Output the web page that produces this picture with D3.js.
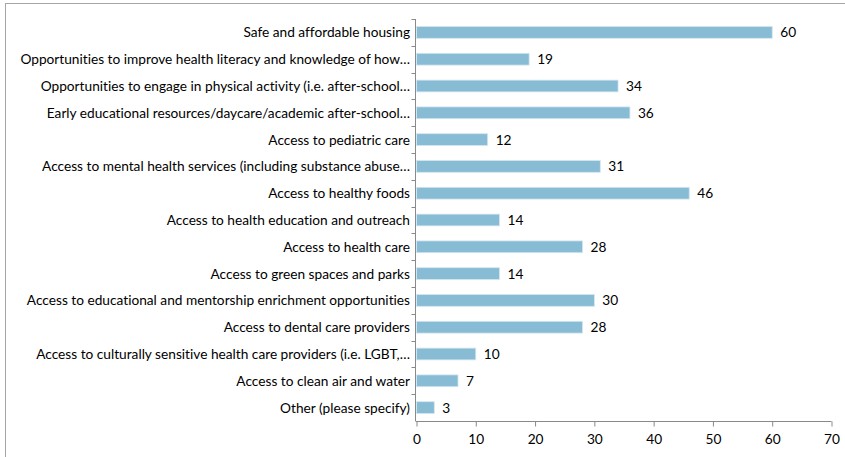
<!DOCTYPE html>
<html>
<head>
<meta charset="utf-8">
<script src="https://cdn.jsdelivr.net/npm/d3@7"></script>
<style>
  html, body { margin: 0; padding: 0; background: #fff; }
  svg { display: block; }
  text { font-family: Lato, "Liberation Sans", Arial, sans-serif; fill: #000; font-variant-ligatures: none; }
</style>
</head>
<body>
<svg id="chart" width="845" height="457"></svg>
<script>
// Survey responses: community resources needed
const categories = [
  "Safe and affordable housing",
  "Opportunities to improve health literacy and knowledge of how…",
  "Opportunities to engage in physical activity (i.e. after-school…",
  "Early educational resources/daycare/academic after-school…",
  "Access to pediatric care",
  "Access to mental health services (including substance abuse…",
  "Access to healthy foods",
  "Access to health education and outreach",
  "Access to health care",
  "Access to green spaces and parks",
  "Access to educational and mentorship enrichment opportunities",
  "Access to dental care providers",
  "Access to culturally sensitive health care providers (i.e. LGBT,…",
  "Access to clean air and water",
  "Other (please specify)"
];
const values = [60, 19, 34, 36, 12, 31, 46, 14, 28, 14, 30, 28, 10, 7, 3];
const xTicks = [0, 10, 20, 30, 40, 50, 60, 70];

const svg = d3.select("#chart");

// outer frame
svg.append("rect")
  .attr("x", 5.5).attr("y", 3.5)
  .attr("width", 850).attr("height", 470)
  .attr("fill", "none").attr("stroke", "#a6a6a6").attr("stroke-width", 1);

const plotLeft = 415.5, plotRight = 831.5, plotTop = 19, plotBottom = 421;
const fontSize = 13.7;

const x = d3.scaleLinear().domain([0, 70]).range([plotLeft + 1, plotRight]);
const y = d3.scaleBand().domain(categories).range([plotTop, plotBottom])
  .paddingInner(0.56).paddingOuter(0.28);

const axisColor = "#898989";

// bars
svg.append("g").selectAll("rect")
  .data(values)
  .join("rect")
  .attr("x", x(0))
  .attr("y", (d, i) => y(categories[i]))
  .attr("width", d => x(d) - x(0))
  .attr("height", y.bandwidth())
  .attr("fill", "#88bbd4")
  .attr("stroke", "#d4e7f0")
  .attr("stroke-width", 0.8);

// value labels
svg.append("g").selectAll("text")
  .data(values)
  .join("text")
  .attr("x", d => x(d) + 8)
  .attr("y", (d, i) => y(categories[i]) + y.bandwidth() / 2)
  .attr("dy", "0.36em")
  .attr("font-size", fontSize)
  .text(d => d);

// category axis: line plus ticks on band boundaries
const step = y.step();
const gy = svg.append("g");
gy.append("line")
  .attr("x1", plotLeft).attr("x2", plotLeft)
  .attr("y1", plotTop).attr("y2", plotBottom)
  .attr("stroke", axisColor);
const bounds = categories.map(c => y(c) + y.bandwidth() / 2 - step / 2);
gy.selectAll("line.tk")
  .data(bounds)
  .join("line")
  .attr("class", "tk")
  .attr("x1", plotLeft - 4).attr("x2", plotLeft)
  .attr("y1", d => Math.round(d) + 0.5).attr("y2", d => Math.round(d) + 0.5)
  .attr("stroke", axisColor);
gy.selectAll("text")
  .data(categories)
  .join("text")
  .attr("x", 410)
  .attr("y", c => y(c) + y.bandwidth() / 2)
  .attr("dy", "0.36em")
  .attr("text-anchor", "end")
  .attr("font-size", fontSize)
  .text(c => c);

// value axis
const gx = svg.append("g").attr("transform", `translate(0,${plotBottom + 0.5})`);
gx.call(d3.axisBottom(x).tickValues(xTicks).tickSize(5).tickSizeOuter(0).tickPadding(8));
gx.select(".domain").attr("stroke", axisColor).attr("d", `M${plotLeft},0H${plotRight}`);
gx.selectAll(".tick line").attr("stroke", axisColor);
gx.selectAll(".tick text")
  .attr("font-size", fontSize)
  .attr("font-family", "Lato, Liberation Sans, Arial, sans-serif")
  .attr("fill", "#000");
</script>
</body>
</html>
